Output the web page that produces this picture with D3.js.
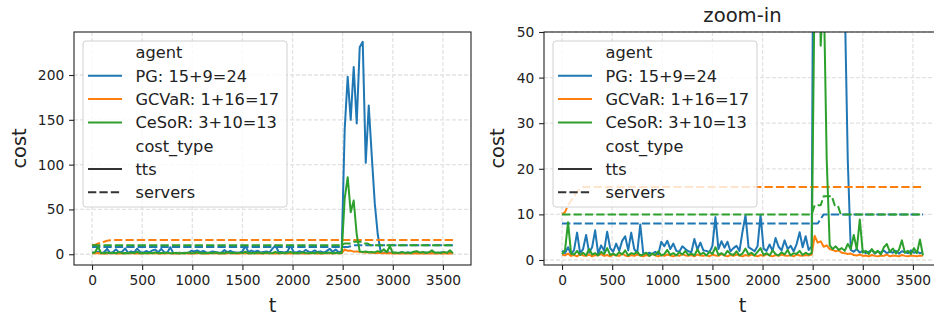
<!DOCTYPE html>
<html>
<head>
<meta charset="utf-8">
<script src="https://cdn.jsdelivr.net/npm/d3@7"></script>
<style>
  body { margin: 0; background: #fff; }
  svg text { font-family: "DejaVu Sans", sans-serif; fill: #222; }
</style>
</head>
<body>
<div id="chart"></div>
<script>
// time steps (t) shared by the tts series
var tSteps = [
  0, 30, 60, 90, 120, 150, 180, 210, 240, 270,
  300, 330, 360, 390, 420, 450, 480, 510, 540, 570,
  600, 630, 660, 690, 720, 750, 780, 810, 840, 870,
  900, 930, 960, 990, 1020, 1050, 1080, 1110, 1140, 1170,
  1200, 1230, 1260, 1290, 1320, 1350, 1380, 1410, 1440, 1470,
  1500, 1530, 1560, 1590, 1620, 1650, 1680, 1710, 1740, 1770,
  1800, 1830, 1860, 1890, 1920, 1950, 1980, 2010, 2040, 2070,
  2100, 2130, 2160, 2190, 2220, 2250, 2280, 2310, 2340, 2370,
  2400, 2430, 2460, 2490, 2520, 2550, 2580, 2610, 2640, 2670,
  2700, 2730, 2760, 2790, 2820, 2850, 2880, 2910, 2940, 2970,
  3000, 3030, 3060, 3090, 3120, 3150, 3180, 3210, 3240, 3270,
  3300, 3330, 3360, 3390, 3420, 3450, 3480, 3510, 3540, 3570,
  3600
];

var pgTts = [
  2.0, 1.5, 2.8, 1.2, 2.2, 6.0, 1.5, 2.4, 5.5, 1.6,
  2.8, 6.5, 1.4, 3.2, 2.0, 6.2, 2.6, 1.8, 3.6, 2.0,
  4.2, 5.2, 2.1, 6.0, 2.4, 1.5, 7.8, 1.5, 1.2, 1.6,
  1.3, 1.8, 1.2, 4.0, 3.0, 4.2, 2.4, 3.6, 2.0, 1.8,
  3.0, 2.4, 1.9, 1.7, 4.6, 2.3, 3.8, 2.1, 2.0, 1.7,
  3.1, 9.4, 2.4, 4.1, 2.7, 4.0, 1.9, 2.6, 3.1, 2.0,
  6.2, 9.8, 2.8, 2.4, 1.9, 3.0, 9.9, 2.5, 2.0, 3.4,
  2.0, 4.8, 2.9, 2.1, 4.3, 2.4, 3.1, 1.9, 3.5, 6.1,
  2.8, 5.2, 2.2, 3.0, 139, 198, 150, 209, 146, 231,
  237, 102, 166, 110, 57, 22, 2.2, 1.8, 2.4, 1.6,
  2.0, 1.5, 1.8, 2.2, 1.4, 1.9, 1.6, 2.1, 1.5, 1.8,
  1.6, 2.0, 1.4, 1.9, 1.7, 1.5, 2.1, 1.6, 1.8, 1.5,
  1.7
];

var gcvarTts = [
  1.2, 1.0, 1.4, 0.9, 1.1, 0.8, 1.3, 1.0, 0.9, 1.2,
  0.8, 1.1, 1.0, 1.3, 0.9, 1.1, 0.8, 1.2, 1.0, 0.9,
  1.4, 1.0, 0.8, 1.1, 0.9, 1.2, 1.0, 0.8, 1.1, 0.9,
  1.3, 1.0, 0.8, 1.1, 0.9, 1.2, 1.0, 0.8, 1.1, 0.9,
  1.3, 1.0, 0.9, 1.1, 0.8, 1.2, 1.0, 0.9, 1.1, 0.8,
  1.2, 1.0, 0.9, 1.3, 1.0, 0.8, 1.1, 0.9, 1.2, 1.0,
  0.8, 1.1, 0.9, 1.2, 1.0, 0.8, 1.1, 0.9, 1.3, 1.0,
  0.8, 1.1, 0.9, 1.2, 1.0, 0.9, 1.1, 0.8, 1.2, 1.0,
  0.9, 1.1, 1.0, 1.2, 5.3, 3.8, 4.1, 2.9, 3.2, 2.4,
  2.2, 1.9, 2.1, 1.6, 1.5, 1.3, 1.4, 1.1, 1.0, 1.2,
  0.9, 1.0, 0.8, 1.1, 0.9, 0.8, 1.0, 0.9, 1.2, 0.8,
  1.0, 0.9, 0.8, 1.1, 0.9, 0.8, 1.0, 0.9, 0.8, 1.0,
  0.9
];

var cesorTts = [
  1.3, 2.2, 8.3, 1.4, 1.2, 2.0, 1.1, 1.6, 1.0, 2.4,
  1.2, 1.5, 1.0, 1.8, 1.3, 2.6, 1.1, 1.4, 1.0, 1.7,
  1.2, 2.1, 1.0, 1.5, 1.3, 1.8, 1.0, 1.2, 1.6, 0.9,
  1.4, 1.1, 1.9, 1.0, 1.3, 2.2, 1.1, 1.5, 1.0, 1.7,
  1.2, 2.0, 1.1, 1.4, 1.0, 2.3, 1.2, 1.6, 1.0, 1.8,
  1.3, 2.8, 1.1, 1.5, 1.0, 2.0, 1.3, 1.1, 1.9, 1.0,
  1.4, 2.5, 1.2, 1.6, 1.0, 1.8, 2.6, 1.1, 1.5, 1.0,
  2.1, 1.3, 1.0, 1.7, 1.2, 2.2, 1.0, 1.5, 1.3, 2.0,
  1.1, 1.6, 1.2, 1.5, 62, 86, 47, 60, 22, 3.2,
  2.4, 3.0, 2.2, 2.6, 2.0, 3.5, 2.4, 5.5, 2.3, 8.9,
  1.6, 2.0, 1.3, 2.4, 1.5, 2.0, 1.2, 2.8, 3.5, 1.8,
  2.5, 1.4, 2.2, 4.3, 1.6, 2.0, 1.3, 2.6, 1.5, 4.5,
  1.0
];

// servers series only change at a few steps
var pgServersT = [0, 2550, 2580, 2610, 3600];
var pgServersV = [8, 8, 9, 10, 10];
var gcvarServersT = [0, 30, 60, 90, 120, 150, 180, 210, 3600];
var gcvarServersV = [10, 10.5, 12, 13, 14, 15, 15.5, 16, 16];
var cesorServersT = [0, 2490, 2520, 2580, 2610, 2690, 2720, 2750, 2780, 3600];
var cesorServersV = [10, 10, 12, 12, 14, 14, 12, 12, 10, 10];

var agentLabels = ["PG: 15+9=24", "GCVaR: 1+16=17", "CeSoR: 3+10=13"];
var costTypes = ["tts", "servers"];
var agentColors = ["#1f77b4", "#ff7f0e", "#2ca02c"];

var xTicks = [0, 500, 1000, 1500, 2000, 2500, 3000, 3500];
var fullYTicks = [0, 50, 100, 150, 200];
var zoomYTicks = [0, 10, 20, 30, 40, 50];

var dashPattern = "8.3,3.1";

var series = [
  { agent: 0, type: "tts", t: tSteps, v: pgTts },
  { agent: 0, type: "servers", t: pgServersT, v: pgServersV },
  { agent: 1, type: "tts", t: tSteps, v: gcvarTts },
  { agent: 1, type: "servers", t: gcvarServersT, v: gcvarServersV },
  { agent: 2, type: "tts", t: tSteps, v: cesorTts },
  { agent: 2, type: "servers", t: cesorServersT, v: cesorServersV }
];

var svg = d3
  .select("#chart")
  .append("svg")
  .attr("width", 934)
  .attr("height", 318);

var panels = [
  { id: "full", left: 74, yDomain: [-12, 248], yTicks: fullYTicks, title: null },
  { id: "zoom", left: 544, yDomain: [-1.1, 50], yTicks: zoomYTicks, title: "zoom-in" }
];

panels.forEach(function (p) {
  drawPanel(p);
});

function drawPanel(p) {
  var top = 32, width = 397, height = 233;
  var tickFont = "13.8px";

  var g = svg
    .append("g")
    .attr("transform", "translate(" + p.left + "," + top + ")");

  var x = d3.scaleLinear().domain([-180, 3780]).range([0, width]);
  var y = d3.scaleLinear().domain(p.yDomain).range([height, 0]);

  g.append("clipPath")
    .attr("id", "clip-" + p.id)
    .append("rect")
    .attr("width", width)
    .attr("height", height);

  // grid
  g.selectAll(".vgrid")
    .data(xTicks)
    .enter()
    .append("line")
    .attr("x1", (d) => x(d))
    .attr("x2", (d) => x(d))
    .attr("y1", 0)
    .attr("y2", height)
    .attr("stroke", "#e2e2e2")
    .attr("stroke-width", 1.3)
    .attr("stroke-dasharray", "4,2");

  g.selectAll(".hgrid")
    .data(p.yTicks)
    .enter()
    .append("line")
    .attr("x1", 0)
    .attr("x2", width)
    .attr("y1", (d) => y(d))
    .attr("y2", (d) => y(d))
    .attr("stroke", "#e2e2e2")
    .attr("stroke-width", 1.3)
    .attr("stroke-dasharray", "4,2");

  // lines
  var plot = g.append("g").attr("clip-path", "url(#clip-" + p.id + ")");
  series.forEach(function (s) {
    var line = d3
      .line()
      .x((d, i) => x(s.t[i]))
      .y((d) => y(d));
    plot
      .append("path")
      .datum(s.v)
      .attr("d", line)
      .attr("fill", "none")
      .attr("stroke", agentColors[s.agent])
      .attr("stroke-width", 2)
      .attr("stroke-linejoin", "round")
      .attr("stroke-dasharray", s.type == "servers" ? dashPattern : null);
  });

  // frame
  g.append("rect")
    .attr("width", width)
    .attr("height", height)
    .attr("fill", "none")
    .attr("stroke", "#222")
    .attr("stroke-width", 1.1);

  // axes
  var xAxis = g
    .append("g")
    .attr("transform", "translate(0," + height + ")")
    .call(
      d3.axisBottom(x).tickValues(xTicks).tickFormat(d3.format("d"))
        .tickSize(4.9).tickPadding(5.3)
    );
  var yAxis = g
    .append("g")
    .call(d3.axisLeft(y).tickValues(p.yTicks).tickSize(4.9).tickPadding(4.9));

  [xAxis, yAxis].forEach(function (a) {
    a.select(".domain").remove();
    a.selectAll(".tick line").attr("stroke", "#222").attr("stroke-width", 1.1);
    a.selectAll(".tick text")
      .style("font-size", tickFont)
      .style("font-family", "DejaVu Sans")
      .attr("fill", "#222");
  });

  g.append("text")
    .attr("x", width / 2)
    .attr("y", 280)
    .attr("text-anchor", "middle")
    .style("font-size", "19.4px")
    .text("t");

  g.append("text")
    .attr("transform", "translate(" + (p.id == "full" ? -48.5 : -40) + "," + height / 2 + ")rotate(-90)")
    .attr("text-anchor", "middle")
    .style("font-size", "19.4px")
    .text("cost");

  if (p.title) {
    g.append("text")
      .attr("x", width / 2)
      .attr("y", -10.5)
      .attr("text-anchor", "middle")
      .style("font-size", "19.6px")
      .text(p.title);
  }

  drawLegend(g);
}

function drawLegend(g) {
  var rows = [{ label: "agent" }];
  agentLabels.forEach(function (a, i) {
    rows.push({ label: a, color: agentColors[i], dash: null });
  });
  rows.push({ label: "cost_type" });
  costTypes.forEach(function (c, i) {
    rows.push({ label: c, color: "#333", dash: i == 1 ? dashPattern : null });
  });

  var lg = g.append("g").attr("transform", "translate(9,9)");
  lg.append("rect")
    .attr("width", 204)
    .attr("height", 166)
    .attr("rx", 3)
    .attr("fill", "#fff")
    .attr("fill-opacity", 0.8)
    .attr("stroke", "#d0d0d0")
    .attr("stroke-width", 1);

  rows.forEach(function (r, i) {
    var cy = 11.5 + i * 23.3;
    if (r.color) {
      lg.append("line")
        .attr("x1", 5)
        .attr("x2", 39)
        .attr("y1", cy)
        .attr("y2", cy)
        .attr("stroke", r.color)
        .attr("stroke-width", 2)
        .attr("stroke-dasharray", r.dash);
    }
    lg.append("text")
      .attr("x", 52.5)
      .attr("y", cy)
      .attr("dy", "0.36em")
      .style("font-size", "16.2px")
      .text(r.label);
  });
}
</script>
</body>
</html>
